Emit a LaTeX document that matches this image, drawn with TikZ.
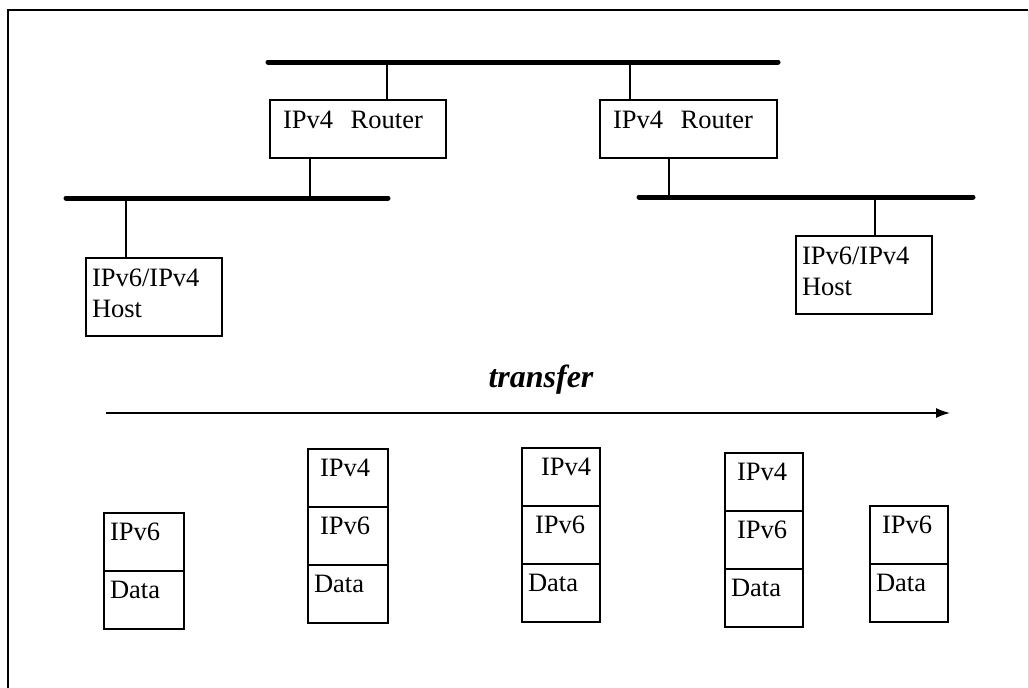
\documentclass[tikz,border=0pt]{standalone}
\usepackage{fontspec}
\setmainfont{Liberation Serif}
\usetikzlibrary{positioning,arrows.meta}

\begin{document}
\begin{tikzpicture}[
    x=1pt, y=-1pt,
    font=\fontsize{26.5}{31}\selectfont,
    bus/.style={
        line width=5pt,
        line cap=round
    },
    link/.style={
        line width=1.8pt
    },
    box/.style={
        rectangle,
        draw,
        line width=2pt,
        outer sep=0pt,
        inner ysep=0pt,
        anchor=north west,
        align=left
    },
    router/.style={
        box,
        inner xsep=13pt,
        text width=150pt,
        text height=28pt,
        text depth=30pt
    },
    host/.style={
        box,
        inner xsep=6pt,
        text width=124pt,
        text height=28pt,
        text depth=50pt
    },
    hdr/.style={
        box,
        inner xsep=12pt,
        text width=56pt,
        text height=27pt,
        text depth=31pt
    },
    payload/.style={
        box,
        inner xsep=6pt,
        text width=68pt,
        text height=27pt,
        text depth=31pt
    }
]
\useasboundingbox (0,0) rectangle (1029,688);

% Frame
\draw [line width=1.5pt] (8,688) -- (8,10) -- (1028,10);
\draw [gray!30, line width=1pt] (1028,10) -- (1028,688);

% Buses
\coordinate (busTa) at (268,62);
\coordinate (busTb) at (778,62);
\coordinate (busLa) at (66,198);
\coordinate (busLb) at (388,198);
\coordinate (busRa) at (639,197);
\coordinate (busRb) at (973,197);
\draw [bus] (busTa) -- (busTb);
\draw [bus] (busLa) -- (busLb);
\draw [bus] (busRa) -- (busRb);

% Nodes
\node [router] (r1) at (270,100) {IPv4\ \ Router};
\node [router, text width=151pt] (r2) at (600,100) {IPv4\ \ Router};
\node [host] (h1) at (86,258) {IPv6/IPv4\\Host};
\node [host] (h2) at (796,236) {IPv6/IPv4\\Host};

% Links
\draw [link] ([xshift=117pt]r1.north west) -- ([xshift=117pt]r1.north west |- busTa);
\draw [link] ([xshift=40pt]r1.south west) -- ([xshift=40pt]r1.south west |- busLa);
\draw [link] ([xshift=40pt]h1.north west) -- ([xshift=40pt]h1.north west |- busLa);
\draw [link] ([xshift=30pt]r2.north west) -- ([xshift=30pt]r2.north west |- busTa);
\draw [link] ([xshift=69pt]r2.south west) -- ([xshift=69pt]r2.south west |- busRa);
\draw [link] ([xshift=79pt]h2.north west) -- ([xshift=79pt]h2.north west |- busRa);

% Transfer
\node [anchor=base, font=\fontsize{32}{36}\selectfont\bfseries\itshape] (xfer) at (541,387) {transfer};
\coordinate (xferA) at (106,413);
\coordinate (xferB) at (950,413);
\draw [line width=1.4pt, -{Latex[length=14pt,width=10pt]}] (xferA) -- (xferB);

% Packets
\node [hdr, inner xsep=6pt, text width=68pt] (p1v6) at (104,513) {IPv6};
\node [payload, below=0pt of p1v6] (p1data) {Data};

\node [hdr] (p2v4) at (308,449) {IPv4};
\node [hdr, below=0pt of p2v4] (p2v6) {IPv6};
\node [payload, below=0pt of p2v6] (p2data) {Data};

\node [hdr, inner xsep=19pt, text width=40pt] (p3v4) at (522,448) {IPv4};
\node [hdr, inner xsep=13pt, text width=52pt, below=0pt of p3v4] (p3v6) {IPv6};
\node [payload, text width=66pt, below=0pt of p3v6] (p3data) {Data};

\node [hdr, text width=54pt] (p4v4) at (725,453) {IPv4};
\node [hdr, text width=54pt, below=0pt of p4v4] (p4v6) {IPv6};
\node [payload, text width=66pt, below=0pt of p4v6] (p4data) {Data};

\node [hdr, text width=54pt] (p5v6) at (870,506) {IPv6};
\node [payload, text width=66pt, below=0pt of p5v6] (p5data) {Data};

\end{tikzpicture}
\end{document}
